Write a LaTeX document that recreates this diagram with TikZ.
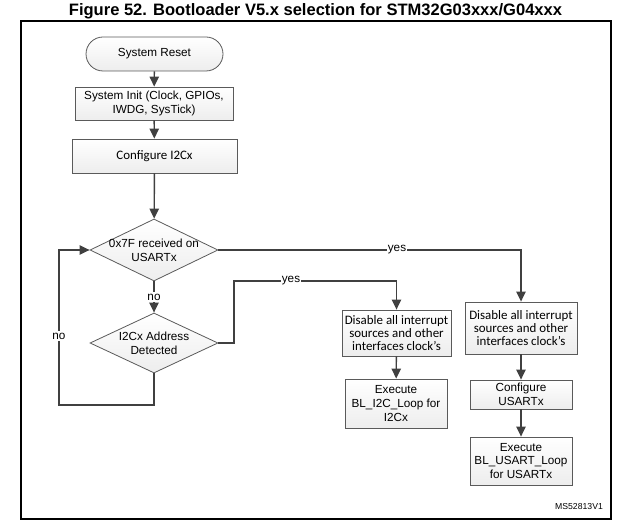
\documentclass[tikz,border=0pt]{standalone}
\usepackage{fontspec}
\setmainfont{Liberation Sans}
\newfontfamily\calfont{Carlito}
\usetikzlibrary{shapes.geometric,arrows.meta}
\definecolor{lnc}{HTML}{404040}
\definecolor{bdc}{HTML}{5A5A5A}
\tikzset{
 box/.style={draw=bdc, line width=0.6pt, top color=white, bottom color=gray!14, align=center, inner sep=0pt, font=\fontsize{8.8}{10.3}\selectfont},
 calbox/.style={box, font=\calfont\fontsize{9.7}{10}\selectfont},
 dia/.style={diamond, draw=bdc, line width=0.6pt, top color=white, bottom color=gray!14, inner sep=0pt},
 arr/.style={draw=lnc, line width=1.05pt, -{Triangle[length=7.5pt,width=7pt]}},
 lbl/.style={fill=white, inner sep=1pt, font=\fontsize{8.8}{10}\selectfont},
 txt/.style={align=center, inner sep=0pt, font=\fontsize{8.8}{10.3}\selectfont},
}
\begin{document}
\begin{tikzpicture}[x=0.75pt,y=-0.75pt]
\useasboundingbox (0,0) rectangle (624,527);
\node[font=\bfseries\fontsize{12.4}{13}\selectfont] (title) at (315.5,11.5) {Figure 52. Bootloader V5.x selection for STM32G03xxx/G04xxx};
\draw[black, line width=0.8pt] (21,21) rectangle (611,519);

\node[box, rounded corners=12.75pt, minimum width=102.75pt, minimum height=25.5pt] (reset) at (154.5,54) {System Reset};
\node[box, minimum width=118.5pt, minimum height=24.75pt] (init) at (154,103.5) {System Init (Clock, GPIOs,\\IWDG, SysTick)};
\node[calbox, minimum width=123.75pt, minimum height=25.5pt] (cfg) at (154.5,156) {Configure I2Cx};
\node[dia, minimum width=96pt, minimum height=46.5pt] (d1) at (154,250) {};
\node[txt] (d1t) at (154,250) {0x7F received on\\USARTx};
\node[dia, minimum width=96pt, minimum height=45pt] (d2) at (154,343) {};
\node[txt] (d2t) at (154,343) {I2Cx Address\\Detected};

\node[calbox, minimum width=81.75pt, minimum height=34.5pt] (dis1) at (396.5,333) {Disable all interrupt\\sources and other\\interfaces clock’s};
\node[box, minimum width=76.5pt, minimum height=36.75pt] (exe1) at (396,403.5) {Execute\\BL\_I2C\_Loop for\\I2Cx};
\node[calbox, minimum width=84pt, minimum height=39pt] (dis2) at (521,328) {Disable all interrupt\\sources and other\\interfaces clock’s};
\node[box, minimum width=76.5pt, minimum height=21.75pt] (cfgu) at (521,394.5) {Configure\\USARTx};
\node[box, minimum width=76.5pt, minimum height=36pt] (exe2) at (521,461) {Execute\\BL\_USART\_Loop\\for USARTx};

\node[font=\fontsize{6.5}{8}\selectfont] (ms) at (579,507) {MS52813V1};

\draw[arr] (reset) -- (init);
\draw[arr] (init) -- (cfg);
\draw[arr] (cfg) -- (d1);
\draw[arr] (d1) -- (d2);
\node[lbl] (no1) at (154,297) {no};

\coordinate (lb) at (59,405);
\draw[arr] (d2.south) |- (lb) |- (d1.west);
\node[lbl] (no2) at (59,336) {no};

\coordinate (y2a) at (234,281);
\draw[arr] (d2.east) -| (y2a) -| (dis1.north);
\node[lbl] (yes2) at (291,281) {yes};

\draw[arr] (d1.east) -| (dis2.north);
\node[lbl] (yes1) at (397,250) {yes};

\draw[arr] (dis1) -- (exe1);
\draw[arr] (dis2) -- (cfgu);
\draw[arr] (cfgu) -- (exe2);
\end{tikzpicture}
\end{document}
